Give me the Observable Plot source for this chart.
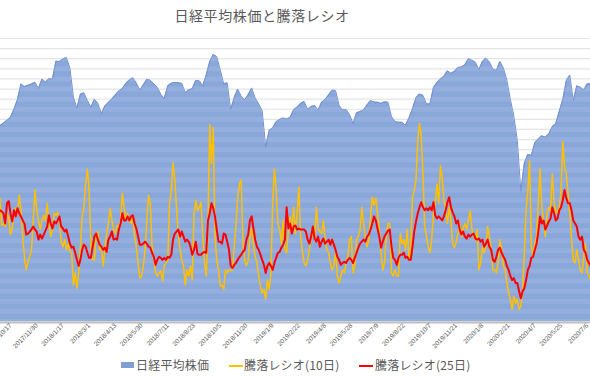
<!DOCTYPE html>
<html><head><meta charset="utf-8">
<script src="https://cdn.jsdelivr.net/npm/d3@7"></script>
<script src="https://cdn.jsdelivr.net/npm/@observablehq/plot@0.6"></script>
<style>
body{margin:0;background:#fff;}
#wrap{position:relative;width:590px;height:380px;overflow:hidden;font-family:"Noto Sans CJK JP","Noto Sans",sans-serif;color:#595959;}
#wrap svg{position:absolute;left:0;top:0;}
#title{position:absolute;left:0;width:524px;top:5px;text-align:center;font-size:14px;letter-spacing:0.6px;line-height:20px;}
.lg{position:absolute;top:357px;font-size:12px;line-height:16px;letter-spacing:0.2px;white-space:nowrap;}
.sw{position:absolute;}
</style></head>
<body><div id="wrap">
<div id="title">日経平均株価と騰落レシオ</div>
<div class="sw" style="left:121px;top:362px;width:13px;height:6px;background:#7f9fd6;"></div>
<div class="lg" style="left:136px;">日経平均株価</div>
<div class="sw" style="left:229px;top:365px;width:14px;height:2px;background:#FFC000;"></div>
<div class="lg" style="left:244px;">騰落レシオ(10日)</div>
<div class="sw" style="left:359px;top:365px;width:14px;height:2px;background:#FF0000;"></div>
<div class="lg" style="left:375px;">騰落レシオ(25日)</div>
</div>
<script>
// trading-day index 0 = 2017/10/17 ; labels every 30 trading days
const tickLabels = ["2017/10/17","2017/11/30","2018/1/17","2018/3/1","2018/4/13","2018/5/30","2018/7/11","2018/8/23","2018/10/5","2018/11/20","2019/1/9","2019/2/22","2019/4/8","2019/5/28","2019/7/9","2019/8/22","2019/10/7","2019/11/21","2020/1/8","2020/2/21","2020/4/7","2020/5/25","2020/7/6"];

// 日経平均株価 (yen), one reading every 4 trading days from day -12
const nikkeiStart = -12, nikkeiStep = 4;
const nikkeiValue = [
20380,20520,20670,20830,21260,21770,22590,22450,22520,22590,
22680,22350,22850,22690,22870,22850,23800,23780,23920,23990,
23430,21900,21300,22050,22120,21720,21360,21780,21570,21020,
21420,21610,21790,22020,22220,22350,22620,22800,22920,22650,
22270,22540,22840,22790,22600,22420,22040,21820,22500,22630,
22670,22660,22620,22130,22280,22340,22780,22760,22500,23060,
23780,24150,24040,23350,22600,22650,21240,21870,22320,21940,
21750,22020,22380,21840,21540,21180,19270,20130,20260,20590,
20710,20790,20730,20820,21220,21370,21560,21670,21240,21400,
21450,21200,21620,21770,22010,22260,22240,21460,21220,21240,
20970,20490,21060,21130,21210,21480,21710,21630,21620,21560,
21650,21620,20860,20600,20560,20560,20400,20790,21280,21860,
22060,21990,21530,21530,22400,22670,22850,23000,23290,23150,
23270,23460,23490,23610,23930,23850,23740,23350,23780,23960,
23760,23390,23310,23780,23450,22790,21780,20870,19600,16900,
18400,18850,18810,19480,19670,19850,19760,19950,20320,20500,
21150,21780,22760,23060,21700,22490,22420,22280,22600,22600];

// 騰落レシオ (%), one reading every 2 trading days from day -12
const ratioStart = -12, ratioStep = 2;
const ratio10 = [
142,115,117,114,127,122,106,112,130,132,127,
145,130,104,84,71,79,84,91,120,150,130,120,111,120,125,120,137,117,104,111,
127,125,128,120,99,94,101,91,97,89,88,56,68,53,68,94,124,133,156,171,150,
94,81,81,104,109,91,94,75,91,107,117,132,120,111,107,115,114,120,147,133,
120,127,120,117,124,104,94,78,63,65,75,91,120,145,137,94,81,68,65,68,70,
60,75,78,81,137,150,177,160,133,107,91,81,75,56,71,65,75,61,127,140,
130,133,
138,104,78,65,
117,215,176,212,104,81,71,55,56,52,71,68,71,70,71,94,115,143,156,160,97,
81,75,81,104,112,96,84,78,65,55,48,52,42,61,52,68,137,171,150,117,
111,97,120,91,88,111,124,111,133,107,127,153,104,89,78,75,81,91,104,107,101,
133,111,109,107,120,101,91,88,78,71,75,88,65,58,65,71,68,78,84,101,
104,68,75,101,104,111,133,117,104,94,101,124,143,135,142,127,111,88,71,78,104,
117,117,
68,65,71,65,65,107,97,101,91,111,81,91,143,150,160,199,216,204,166,
114,104,94,88,101,127,137,156,137,174,163,140,130,117,133,120,97,93,99,107,
117,104,112,117,111,120,130,111,104,101,111,71,78,94,88,94,114,104,91,71,71,
68,78,101,91,75,71,58,48,42,32,45,38,42,32,35,52,88,130,150,179,
94,84,97,104,137,171,133,120,104,127,133,130,166,137,127,130,133,150,198,
173,166,147,127,101,81,78,91,81,71,68,84,97,68,65,61];
const ratio25 = [
130,129,127,117,137,139,127,119,130,124,132,
127,124,120,117,106,107,109,111,114,111,109,101,106,102,106,110,114,125,117,112,
119,117,120,124,114,112,109,111,104,97,93,94,88,81,75,81,91,96,94,88,83,
83,94,104,107,101,96,94,91,93,89,101,104,109,101,102,101,111,117,127,120,
120,124,120,124,125,117,112,104,96,96,97,99,97,94,93,88,84,76,81,84,83,
81,83,81,84,83,86,101,107,109,111,104,109,104,99,101,99,94,86,91,99,
87,86,
86,88,89,88,
120,127,137,132,124,111,99,99,97,107,106,99,91,75,73,76,78,81,84,86,89,
91,101,106,120,124,112,101,94,91,86,81,76,68,75,78,75,71,78,83,88,
89,93,96,101,133,112,117,107,114,115,111,112,111,111,111,109,101,97,104,114,102,
99,104,94,99,102,97,99,101,96,101,96,91,84,81,76,78,79,78,81,83,
81,78,83,88,93,97,99,101,99,104,106,111,117,124,120,112,104,93,99,104,107,
110,111,
94,83,81,76,83,86,86,88,83,84,81,81,94,109,119,127,133,138,133,
130,132,130,133,130,138,125,122,124,122,120,124,130,138,143,133,128,124,117,120,
111,106,109,104,102,106,104,106,107,102,101,102,99,101,94,97,101,94,91,81,79,
84,91,93,88,84,81,75,71,65,61,63,58,58,50,43,50,53,61,71,75,
83,84,91,97,109,124,117,120,111,115,119,122,133,127,120,122,130,133,140,150,
142,137,137,130,120,117,114,104,101,104,91,88,81,78,75];

const nikkei = nikkeiValue.map((v, k) => ({day: nikkeiStart + k * nikkeiStep, v}));
const ratio = ratio10.map((v, k) => ({day: ratioStart + k * ratioStep, r10: v, r25: ratio25[k]}));

const xDomain = [-11.44, 663.7];
const nikkeiDomain = [10000, 25000];
const ratioDomain = [20, 300];
const ratioTicks = d3.range(20, 301, 10);
const common = {width: 590, height: 380, marginTop: 38, marginBottom: 59, marginLeft: 0, marginRight: 0,
  x: {domain: xDomain, axis: null, label: null}};

const gridPlot = Plot.plot({...common, y: {domain: ratioDomain, axis: null},
  marks: [Plot.ruleY(ratioTicks, {stroke: "#e3e3e3", strokeWidth: 1.2})]});

const areaPlot = Plot.plot({...common, style: {background: "transparent"},
  y: {domain: nikkeiDomain, axis: null},
  marks: [
    Plot.areaY(nikkei, {x: "day", y1: 10000, y2: "v", fill: "#8aa7da"}),
    Plot.lineY(nikkei, {x: "day", y: "v", stroke: "#6e8fd0", strokeWidth: 1})
  ]});

const linePlot = Plot.plot({...common, style: {background: "transparent"},
  y: {domain: ratioDomain, axis: null},
  marks: [
    Plot.ruleY(ratioTicks, {stroke: "#ffffff", strokeOpacity: 0.09, strokeWidth: 5}),
    Plot.ruleY([20], {stroke: "#bfbfbf", strokeWidth: 2, dy: 1}),
    Plot.axisX(d3.range(0, 661, 30), {tickFormat: d => tickLabels[d / 30], tickRotate: -45, tickSize: 0,
      tickPadding: 3, fontSize: 6.5, fill: "#595959", label: null, fontFamily: "Liberation Sans, Arial, sans-serif"}),
    Plot.lineY(ratio, {x: "day", y: "r10", stroke: "#FFC000", strokeWidth: 1.5, strokeLinejoin: "round"}),
    Plot.lineY(ratio, {x: "day", y: "r25", stroke: "#FF0000", strokeWidth: 2, strokeLinejoin: "round"})
  ]});

const wrap = document.getElementById("wrap");
wrap.prepend(linePlot);
wrap.prepend(areaPlot);
wrap.prepend(gridPlot);
</script>
</body></html>
